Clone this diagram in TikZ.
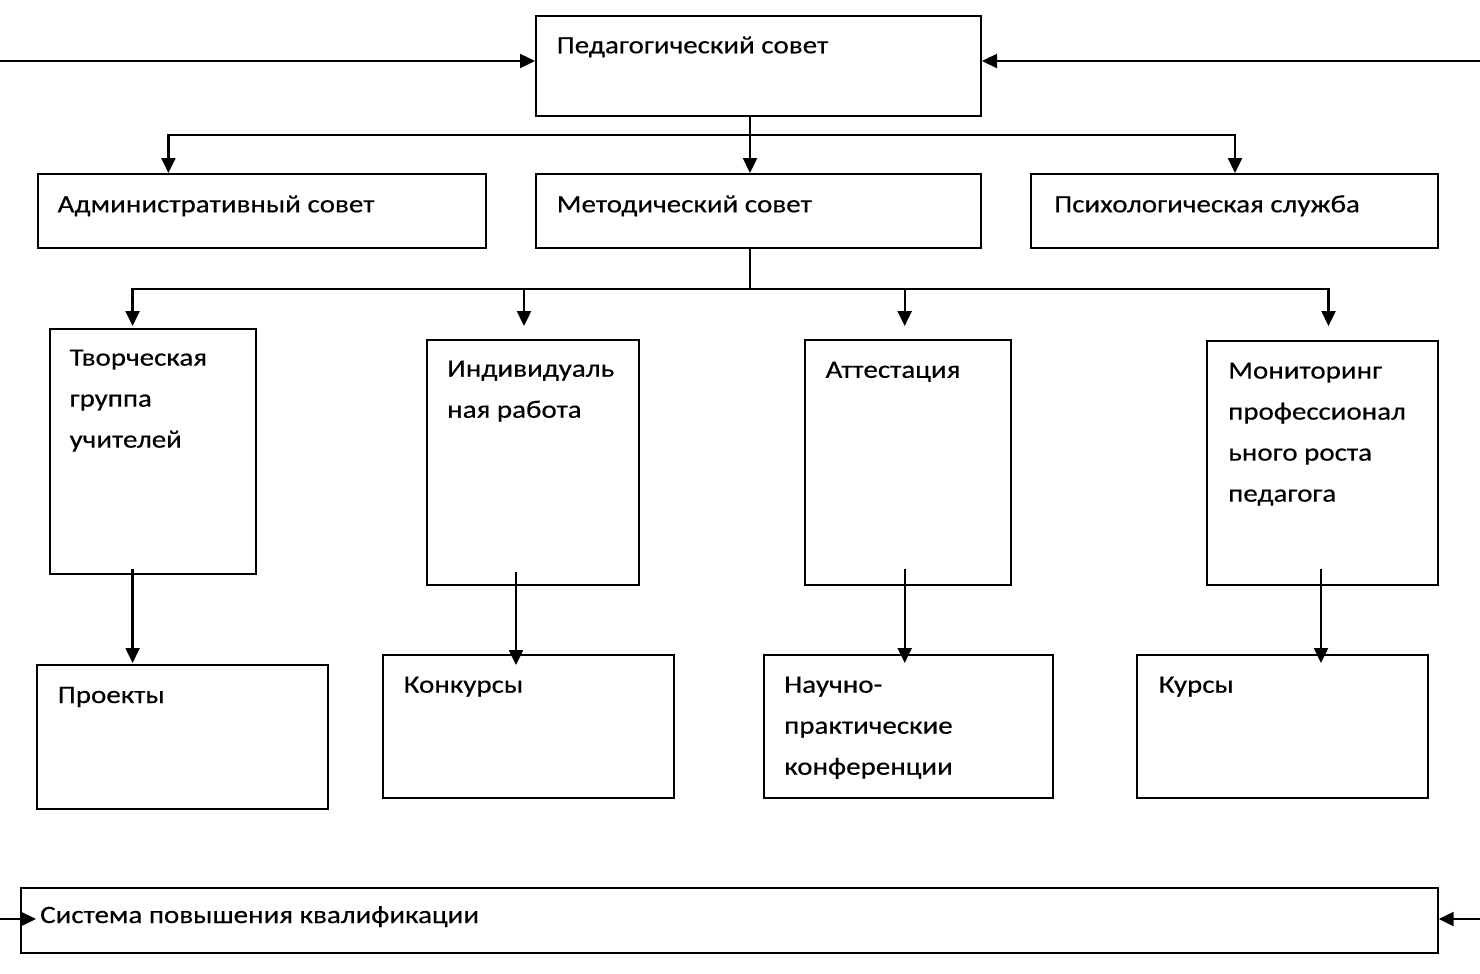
\documentclass[tikz,border=0pt]{standalone}
\usepackage{fontspec}
\setmainfont{Carlito}[FakeStretch=1.16,FakeBold=0.4]
\usetikzlibrary{arrows.meta}
\tikzset{
  box/.style={draw=black, line width=2pt, rectangle, anchor=north west, inner sep=0pt, minimum width=#1},
  txt/.style={anchor=base west, inner sep=0pt, font=\fontsize{25}{41}\selectfont},
  conn/.style={draw=black, line width=2.4pt},
  arr/.style={conn, -{Triangle[length=15pt,width=14pt]}}
}
\newcommand{\mlines}[1]{\begin{tabular}[t]{@{}l@{}}#1\end{tabular}}
\begin{document}
\begin{tikzpicture}[x=1pt,y=-1pt]
\useasboundingbox (0,0) rectangle (1480,974);
% boxes
\node[box=445pt, minimum height=100pt] (ped) at (535,15) {};
\node[box=448pt, minimum height=74pt] (adm) at (37,173) {};
\node[box=445pt, minimum height=74pt] (met) at (535,173) {};
\node[box=407pt, minimum height=74pt] (psy) at (1030,173) {};
\node[box=206pt, minimum height=245pt] (tvor) at (48.6,327.6) {};
\node[box=212pt, minimum height=245pt] (ind) at (426,338.7) {};
\node[box=206pt, minimum height=245pt] (att) at (804,338.7) {};
\node[box=230.6pt, minimum height=244pt] (mon) at (1206,340) {};
\node[box=290.6pt, minimum height=144pt] (proj) at (36,664) {};
\node[box=290.5pt, minimum height=143pt] (konk) at (382,654) {};
\node[box=289.4pt, minimum height=143pt] (nauch) at (762.6,654) {};
\node[box=290.6pt, minimum height=143pt] (kurs) at (1136,654) {};
\node[box=1416.7pt, minimum height=65.3pt] (sys) at (20,886.7) {};
% texts
\node[txt] (tped) at (556.5,53.3) {Педагогический совет};
\node[txt] (tadm) at (57.4,212.3) {Административный совет};
\node[txt] (tmet) at (556.5,212.3) {Методический совет};
\node[txt] (tpsy) at (1054,212.3) {Психологическая служба};
\node[txt] (ttvor) at (69.4,365.6) {\mlines{Творческая\\группа\\учителей}};
\node[txt] (tind) at (447,376.7) {\mlines{Индивидуаль\\ная работа}};
\node[txt] (tatt) at (825.4,377.8) {Аттестация};
\node[txt] (tmon) at (1228,378.6) {\mlines{Мониторинг\\профессионал\\ьного роста\\педагога}};
\node[txt] (tproj) at (57.6,703) {Проекты};
\node[txt] (tkonk) at (403.5,692.7) {Конкурсы};
\node[txt] (tnauch) at (784,692.7) {\mlines{Научно-\\практические\\конференции}};
\node[txt] (tkurs) at (1158.6,692.7) {Курсы};
\node[txt] (tsys) at (40,923) {Система повышения квалификации};
% coordinates
\coordinate (lin) at (0,61);
\coordinate (rin) at (1480,61);
\coordinate (b1) at (750,135);
\coordinate (h1) at (168.4,135);
\coordinate (h2) at (1235,135);
\coordinate (m) at (750,289);
\coordinate (t1) at (132.6,326);
\coordinate (t2) at (524,326);
\coordinate (t3) at (904.7,326);
\coordinate (t4) at (1328.5,326);
\coordinate (s1) at (132.6,569);
\coordinate (e1) at (132.6,663);
\coordinate (s2) at (516,571.5);
\coordinate (e2) at (516,665);
\coordinate (s3) at (904.7,569);
\coordinate (e3) at (904.7,663);
\coordinate (s4) at (1321,569);
\coordinate (e4) at (1321,663);
\coordinate (sl) at (0,919);
\coordinate (slt) at (36,919);
\coordinate (sr) at (1480,919);
% connectors
\draw[arr] (lin) -- (lin -| ped.west);
\draw[arr] (rin) -- (rin -| ped.east);
\draw[arr] (ped.south -| b1) -- (met.north -| b1);
\draw[arr] (b1) -- (h1) -- (h1 |- adm.north);
\draw[arr] (b1) -- (h2) -- (h2 |- psy.north);
\draw[conn] (met.south -| m) -- (m);
\draw[arr] (m) -| (t1);
\draw[arr] (m) -| (t2);
\draw[arr] (m) -| (t3);
\draw[arr] (m) -| (t4);
\draw[arr] (s1) -- (e1);
\draw[arr] (s2) -- (e2);
\draw[arr] (s3) -- (e3);
\draw[arr] (s4) -- (e4);
\draw[arr] (sl) -- (slt);
\draw[arr] (sr) -- (sr -| sys.east);
\end{tikzpicture}
\end{document}
